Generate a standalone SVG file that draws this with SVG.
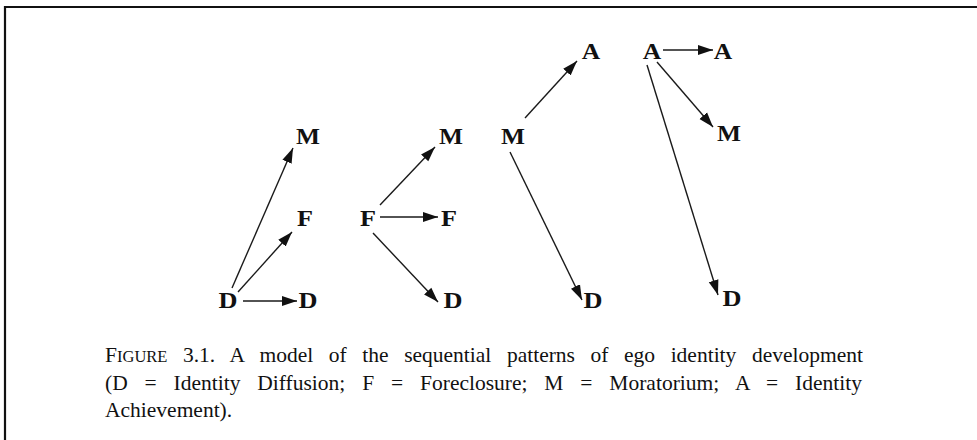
<svg xmlns="http://www.w3.org/2000/svg" width="977" height="440" viewBox="0 0 977 440">
<style>
.lbl{font-family:"Liberation Serif","Times New Roman",serif;font-weight:bold;font-size:23px;fill:#111;text-anchor:middle}
.cap{font-family:"Liberation Serif","Times New Roman",serif;font-size:21.5px;fill:#111}
.ln{stroke:#1a1a1a;stroke-width:1.4;fill:none;marker-end:url(#ah)}
</style>
<defs>
<marker id="ah" markerUnits="userSpaceOnUse" markerWidth="15" markerHeight="11" refX="15" refY="5.5" orient="auto">
<path d="M0,0.5 L15,5.5 L0,10.5 z" fill="#111"/>
</marker>
</defs>
<rect width="977" height="440" fill="#fff"/>
<path d="M5,440 V7 H977" stroke="#111" stroke-width="2.2" fill="none"/>
<g id="connectors">
<line class="ln" x1="243" y1="301" x2="297" y2="301"/>
<line class="ln" x1="238" y1="292" x2="292" y2="232"/>
<line class="ln" x1="232" y1="288" x2="293" y2="148"/>
<line class="ln" x1="380" y1="205" x2="435" y2="147"/>
<line class="ln" x1="380" y1="217" x2="438" y2="217"/>
<line class="ln" x1="373" y1="233" x2="438" y2="302"/>
<line class="ln" x1="525" y1="118" x2="577" y2="61"/>
<line class="ln" x1="510" y1="152" x2="582" y2="300"/>
<line class="ln" x1="663" y1="50" x2="713" y2="50"/>
<line class="ln" x1="657" y1="62" x2="713" y2="127"/>
<line class="ln" x1="647" y1="65" x2="718" y2="295"/>
</g>
<g id="g1-D"><text class="lbl" x="228" y="308" textLength="19" lengthAdjust="spacingAndGlyphs">D</text></g>
<g id="g1-Dt"><text class="lbl" x="308" y="308" textLength="19" lengthAdjust="spacingAndGlyphs">D</text></g>
<g id="g1-Ft"><text class="lbl" x="305" y="226" textLength="16" lengthAdjust="spacingAndGlyphs">F</text></g>
<g id="g1-Mt"><text class="lbl" x="308" y="144" textLength="24" lengthAdjust="spacingAndGlyphs">M</text></g>
<g id="g2-F"><text class="lbl" x="368" y="226" textLength="16" lengthAdjust="spacingAndGlyphs">F</text></g>
<g id="g2-Mt"><text class="lbl" x="451" y="144" textLength="24" lengthAdjust="spacingAndGlyphs">M</text></g>
<g id="g2-Ft"><text class="lbl" x="449" y="226" textLength="16" lengthAdjust="spacingAndGlyphs">F</text></g>
<g id="g2-Dt"><text class="lbl" x="453" y="308" textLength="19" lengthAdjust="spacingAndGlyphs">D</text></g>
<g id="g3-M"><text class="lbl" x="513" y="144" textLength="24" lengthAdjust="spacingAndGlyphs">M</text></g>
<g id="g3-At"><text class="lbl" x="591" y="59" textLength="18.5" lengthAdjust="spacingAndGlyphs">A</text></g>
<g id="g3-Dt"><text class="lbl" x="593" y="308" textLength="19" lengthAdjust="spacingAndGlyphs">D</text></g>
<g id="g4-A"><text class="lbl" x="652" y="59" textLength="18.5" lengthAdjust="spacingAndGlyphs">A</text></g>
<g id="g4-At"><text class="lbl" x="723" y="59" textLength="18.5" lengthAdjust="spacingAndGlyphs">A</text></g>
<g id="g4-Mt"><text class="lbl" x="729" y="141" textLength="24" lengthAdjust="spacingAndGlyphs">M</text></g>
<g id="g4-Dt"><text class="lbl" x="732" y="306" textLength="19" lengthAdjust="spacingAndGlyphs">D</text></g>
<g id="caption">
<text class="cap" x="105" y="362" style="word-spacing:10.2px">F<tspan font-size="16.5">IGURE</tspan> 3.1. A model of the sequential patterns of ego identity development</text>
<text class="cap" x="105" y="390" style="word-spacing:11.5px">(D = Identity Diffusion; F = Foreclosure; M = Moratorium; A = Identity</text>
<text class="cap" x="105" y="417">Achievement).</text>
</g>
</svg>
